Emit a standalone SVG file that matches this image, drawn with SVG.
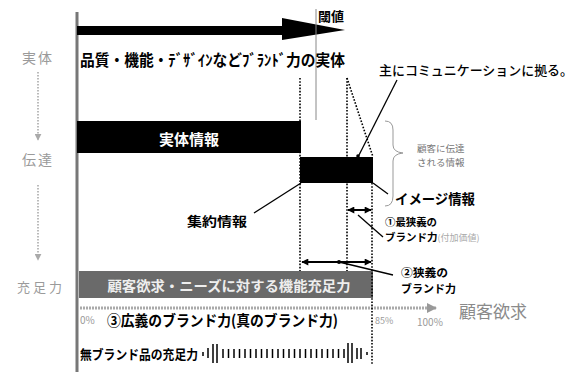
<svg xmlns="http://www.w3.org/2000/svg" width="585" height="372" viewBox="0 0 585 372">
<style>
.b{font-family:"Noto Sans CJK JP","Noto Sans",sans-serif;font-weight:700;fill:#000}
.w{font-family:"Noto Sans CJK JP","Noto Sans",sans-serif;font-weight:700;fill:#fff}
.g{font-family:"Noto Sans CJK JP","Noto Sans",sans-serif;font-weight:400;fill:#9a9a9a}
.dot{stroke:#000;stroke-width:1.6;stroke-dasharray:1.6 1.6;fill:none}
.ln{stroke:#000;stroke-width:1.3;fill:none}
.gd{stroke:#aaa;stroke-width:1.6;stroke-dasharray:1.5 1.5;fill:none}
</style>
<defs>
<marker id="ah" viewBox="0 0 10 10" refX="9" refY="5" markerUnits="userSpaceOnUse" markerWidth="8" markerHeight="7" orient="auto-start-reverse"><path d="M0,0 L10,5 L0,10 z" fill="#000"/></marker>
<marker id="gah" viewBox="0 0 10 10" refX="9" refY="5" markerUnits="userSpaceOnUse" markerWidth="10" markerHeight="10" orient="auto"><path d="M0,0 L10,5 L0,10 z" fill="#999"/></marker>
<marker id="gah2" viewBox="0 0 10 10" refX="9" refY="5" markerUnits="userSpaceOnUse" markerWidth="7" markerHeight="7" orient="auto"><path d="M0,0 L10,5 L0,10 z" fill="#aaa"/></marker>
</defs>
<rect width="585" height="372" fill="#fff"/>

<g id="axis">
<line x1="77" y1="12" x2="77" y2="372" stroke="#777" stroke-width="3"/>
</g>

<g id="left-labels">
<text class="g" x="22" y="63" font-size="14" letter-spacing="2">実体</text>
<text class="g" x="22" y="165" font-size="14" letter-spacing="2">伝達</text>
<text class="g" x="17" y="292" font-size="13" letter-spacing="3">充足力</text>
</g>

<g id="main-arrow">
<rect x="77" y="26" width="207" height="9" fill="#000"/>
<path d="M282,18 L345,30 L282,40 z" fill="#000"/>
</g>

<g id="threshold">
<line x1="316" y1="9" x2="316" y2="120" stroke="#888" stroke-width="1"/>
<text class="b" x="318" y="21" font-size="13">閾値</text>
</g>

<g id="title">
<text class="b" x="80" y="66" font-size="15.5" textLength="265" lengthAdjust="spacingAndGlyphs">品質・機能・ﾃﾞｻﾞｲﾝなどﾌﾞﾗﾝﾄﾞ力の実体</text>
</g>

<g id="jittai-joho">
<rect x="77" y="121" width="224" height="32" fill="#000"/>
<text class="w" x="189" y="145" font-size="15" text-anchor="middle">実体情報</text>
</g>

<g id="image-bar">
<rect x="300" y="157" width="73" height="26" fill="#000"/>
</g>

<g id="communication-label">
<text class="b" x="379" y="75" font-size="13" textLength="194" lengthAdjust="spacingAndGlyphs" style="font-weight:500">主にコミュニケーションに拠る。</text>
</g>

<g id="customer-info">
<path d="M385,121 Q393,121 393,130 L393,145 Q393,152 403,153 Q393,154 393,161 L393,196 Q393,206 385,206" fill="none" stroke="#999" stroke-width="1"/>
<text class="g" x="417" y="152" font-size="9.5" style="fill:#777">顧客に伝達</text>
<text class="g" x="417" y="166" font-size="9.5" style="fill:#777">される情報</text>
</g>

<g id="shuyaku">
<text class="b" x="187" y="226" font-size="13" textLength="60" lengthAdjust="spacingAndGlyphs">集約情報</text>
</g>

<g id="image-joho">
<text class="b" x="395" y="204" font-size="14" textLength="80" lengthAdjust="spacingAndGlyphs">イメージ情報</text>
</g>

<g id="brand1">
<text class="b" x="385" y="226" font-size="10.5" textLength="52" lengthAdjust="spacingAndGlyphs">①最狭義の</text>
<text class="b" x="385" y="241" font-size="10.5">ブランド力<tspan style="font-weight:400;fill:#aaa" font-size="9">(付加価値)</tspan></text>
</g>

<g id="brand2">
<text class="b" x="401" y="277" font-size="11" textLength="47" lengthAdjust="spacingAndGlyphs">②狭義の</text>
<text class="b" x="401" y="293" font-size="11">ブランド力</text>
</g>

<g id="satisfaction-bar">
<rect x="79" y="271" width="294" height="27" fill="#6a6a6a"/>
<text class="w" x="229" y="291" font-size="14" text-anchor="middle" textLength="243" lengthAdjust="spacingAndGlyphs" style="fill:#eee">顧客欲求・ニーズに対する機能充足力</text>
</g>

<g id="scale">
<line x1="80" y1="308" x2="436" y2="308" stroke="#aaa" stroke-width="3" stroke-dasharray="2 1" marker-end="url(#gah)"/>
<text class="g" x="80" y="324" font-size="10">0%</text>
<text class="g" x="375" y="324" font-size="9">85%</text>
<text class="g" x="417" y="326" font-size="10">100%</text>
<text class="g" x="459" y="318" font-size="17" style="fill:#8a8a8a">顧客欲求</text>
</g>

<g id="brand3">
<text class="b" x="107" y="326" font-size="15" textLength="231" lengthAdjust="spacingAndGlyphs">③広義のブランド力(真のブランド力)</text>
</g>

<g id="no-brand">
<text class="b" x="80" y="359" font-size="13" textLength="118" lengthAdjust="spacingAndGlyphs">無ブランド品の充足力</text>
<path d="M203,352 v4 M208,348 v10 M213,344 v19 M217,344 v19 M223,349 v9 M228.5,349 v9 M234,349 v9 M239.5,349 v9 M245,349 v9 M250.5,349 v9 M256,349 v9 M261.5,349 v9 M267,349 v9 M272.5,349 v9 M278,349 v9 M283.5,349 v9 M289,349 v9 M294.5,349 v9 M300,349 v9 M305.5,349 v9 M311,349 v9 M316.5,349 v9 M322,349 v9 M327.5,349 v9 M333,349 v9 M338.5,349 v9 M344,349 v9 M348,343 v20 M352,343 v20 M357,348 v11 M361,348 v11 M367,352 v3" stroke="#000" stroke-width="1.5" fill="none"/>
</g>

<g id="connectors">
<line class="dot" x1="300" y1="78" x2="300" y2="271"/>
<line class="dot" x1="347" y1="78" x2="347" y2="271"/>
<line class="dot" x1="347" y1="78" x2="373" y2="157"/>
<line class="dot" x1="372" y1="183" x2="372" y2="364"/>
<line class="gd" x1="38" y1="72" x2="38" y2="140" marker-end="url(#gah2)"/>
<line class="gd" x1="38" y1="185" x2="38" y2="260" marker-end="url(#gah2)"/>
<line class="ln" x1="397" y1="80" x2="358" y2="157"/>
<circle cx="358" cy="156" r="1.8" fill="#000"/>
<line class="ln" x1="254" y1="213" x2="301" y2="183"/>
<line class="ln" x1="373" y1="183" x2="388" y2="194"/>
<line x1="348" y1="210" x2="371" y2="210" stroke="#000" stroke-width="2" marker-start="url(#ah)" marker-end="url(#ah)"/>
<line class="ln" x1="358" y1="215" x2="383" y2="237"/>
<line x1="302" y1="262" x2="371" y2="262" stroke="#000" stroke-width="2" marker-start="url(#ah)" marker-end="url(#ah)"/>
<circle cx="339" cy="262" r="2" fill="#000"/>
<line class="ln" x1="339" y1="262" x2="393" y2="275"/>
</g>
</svg>
